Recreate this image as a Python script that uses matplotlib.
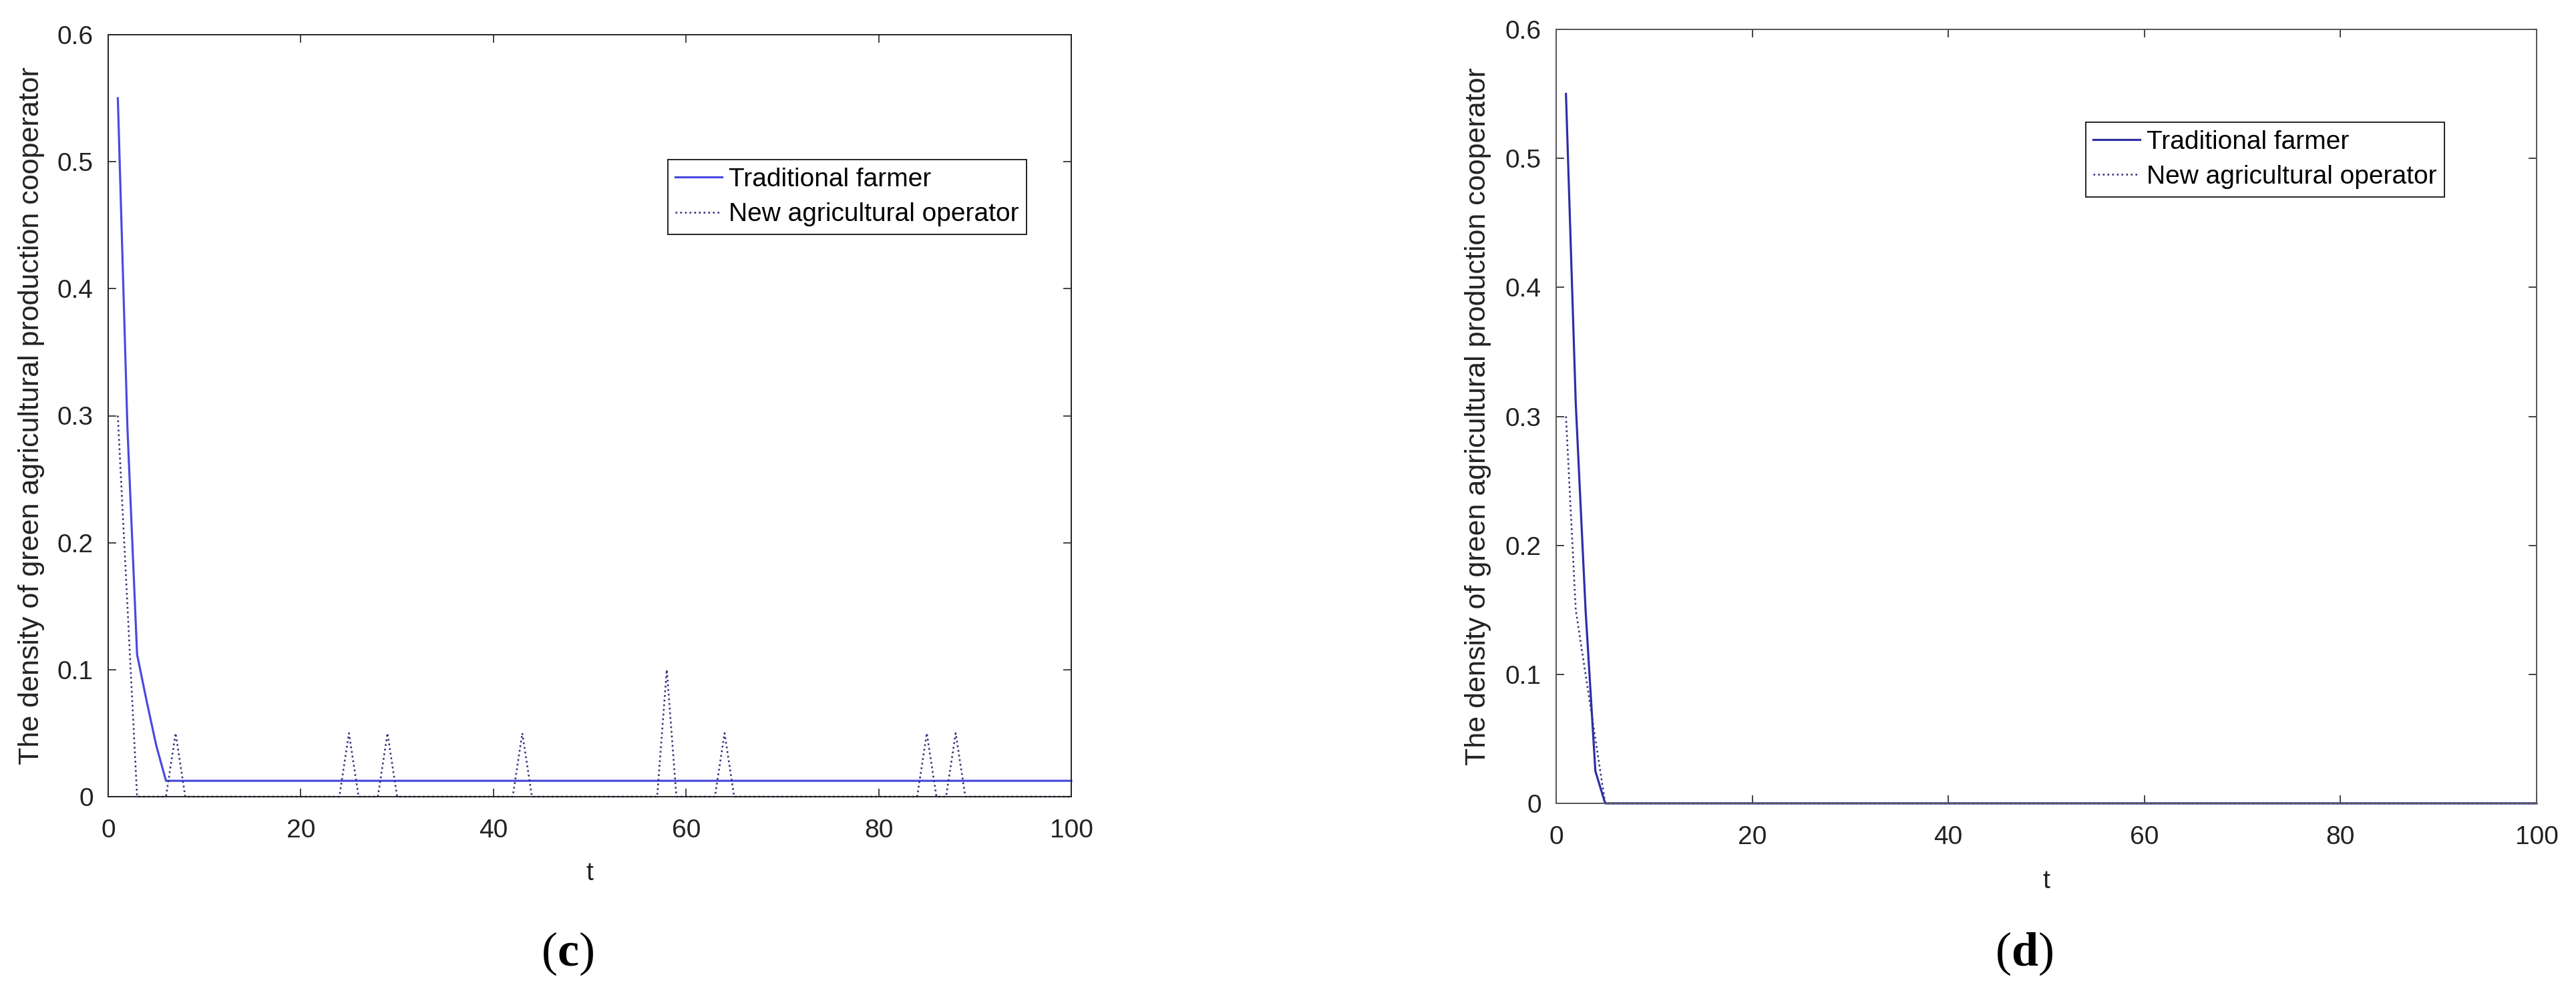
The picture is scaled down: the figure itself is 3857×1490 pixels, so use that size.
import numpy as np
import matplotlib.pyplot as plt

plt.rcParams['font.family'] = ['Liberation Sans', 'DejaVu Sans']
plt.rcParams['mathtext.fontset'] = 'custom'
plt.rcParams['mathtext.rm'] = 'Liberation Serif'
plt.rcParams['mathtext.bf'] = 'Liberation Serif:bold'

# time steps 1..100
t = np.arange(1, 101)

# panel (c): traditional farmer, early values then plateau
c_farmer_start = [0.55, 0.29, 0.112, 0.075, 0.04, 0.0125]
c_farmer_plateau = 0.0125
# panel (c): new agricultural operator, early values then spikes on zero
c_operator_start = [0.30, 0.15, 0.0]
c_spike_t = [7, 25, 29, 43, 58, 64, 85, 88]
c_spike_h = [0.05, 0.05, 0.05, 0.05, 0.10, 0.05, 0.05, 0.05]

# panel (d)
d_farmer_start = [0.55, 0.31, 0.15, 0.025, 0.0]
d_operator_start = [0.30, 0.15, 0.10, 0.05, 0.0]

labels = ['Traditional farmer', 'New agricultural operator']
ylab = 'The density of green agricultural production cooperator'


def build(start, rest=0.0):
    s = np.full(len(t), rest)
    s[:len(start)] = start
    return s


c_farmer = build(c_farmer_start, c_farmer_plateau)
c_operator = build(c_operator_start)
for st, sh in zip(c_spike_t, c_spike_h):
    c_operator[st - 1] = sh
d_farmer = build(d_farmer_start)
d_operator = build(d_operator_start)

W, H = 3857, 1490
fig = plt.figure(figsize=(W / 100, H / 100), dpi=100)
ax1 = fig.add_axes([162 / W, 1 - 1193 / H, 1442 / W, 1141 / H])
ax2 = fig.add_axes([2330 / W, 1 - 1203 / H, 1468 / W, 1159 / H])

fs = 28


def style(ax, spine_col, leg_anchor, solid_col, dot_col, farmer, operator):
    ax.plot(t, farmer, '-', color=solid_col, lw=2.3, label=labels[0], clip_on=False)
    ax.plot(t, operator, ':', color=dot_col, lw=1.9, label=labels[1], clip_on=False)
    ax.set_xlim(0, 100)
    ax.set_ylim(0, 0.6)
    ax.set_xticks(np.arange(0, 101, 20))
    ax.set_yticks(np.arange(0, 0.61, 0.1))
    ax.set_yticklabels(['0', '0.1', '0.2', '0.3', '0.4', '0.5', '0.6'])
    ax.tick_params(direction='in', top=True, right=True, length=8.5, width=1.2,
                   labelsize=fs, colors='#222222')
    ax.tick_params(axis='x', pad=24)
    ax.tick_params(axis='y', pad=16)
    for sp in ax.spines.values():
        sp.set_color(spine_col)
        sp.set_linewidth(1.4)
    ax.set_xlabel('t', fontsize=fs, color='#222222')
    ax.xaxis.set_label_coords(0.5, -0.085)
    ax.set_ylabel(ylab, fontsize=31, color='#222222')
    ax.yaxis.set_label_coords(-0.066, 0.5)
    leg = ax.legend(loc='upper left', bbox_to_anchor=leg_anchor, borderaxespad=0,
                    fontsize=fs, frameon=True, fancybox=False, framealpha=1,
                    edgecolor='#222222', handlelength=1.8, handletextpad=0.25,
                    borderpad=0.3, labelspacing=0.42)
    leg.get_frame().set_linewidth(1.4)


style(ax1, '#222222', (0.581, 0.836), '#4a4ae0', '#34347f', c_farmer, c_operator)
style(ax2, '#555555', (0.540, 0.880), '#2e2ea8', '#34347f', d_farmer, d_operator)

fig.text(850 / W, 1 - 1428 / H, r'($\mathbf{c}$)', family='Liberation Serif',
         fontsize=52, ha='center', va='center')
fig.text(3031 / W, 1 - 1428 / H, r'($\mathbf{d}$)', family='Liberation Serif',
         fontsize=52, ha='center', va='center')

fig.savefig('out.png', dpi=100, facecolor='white')
